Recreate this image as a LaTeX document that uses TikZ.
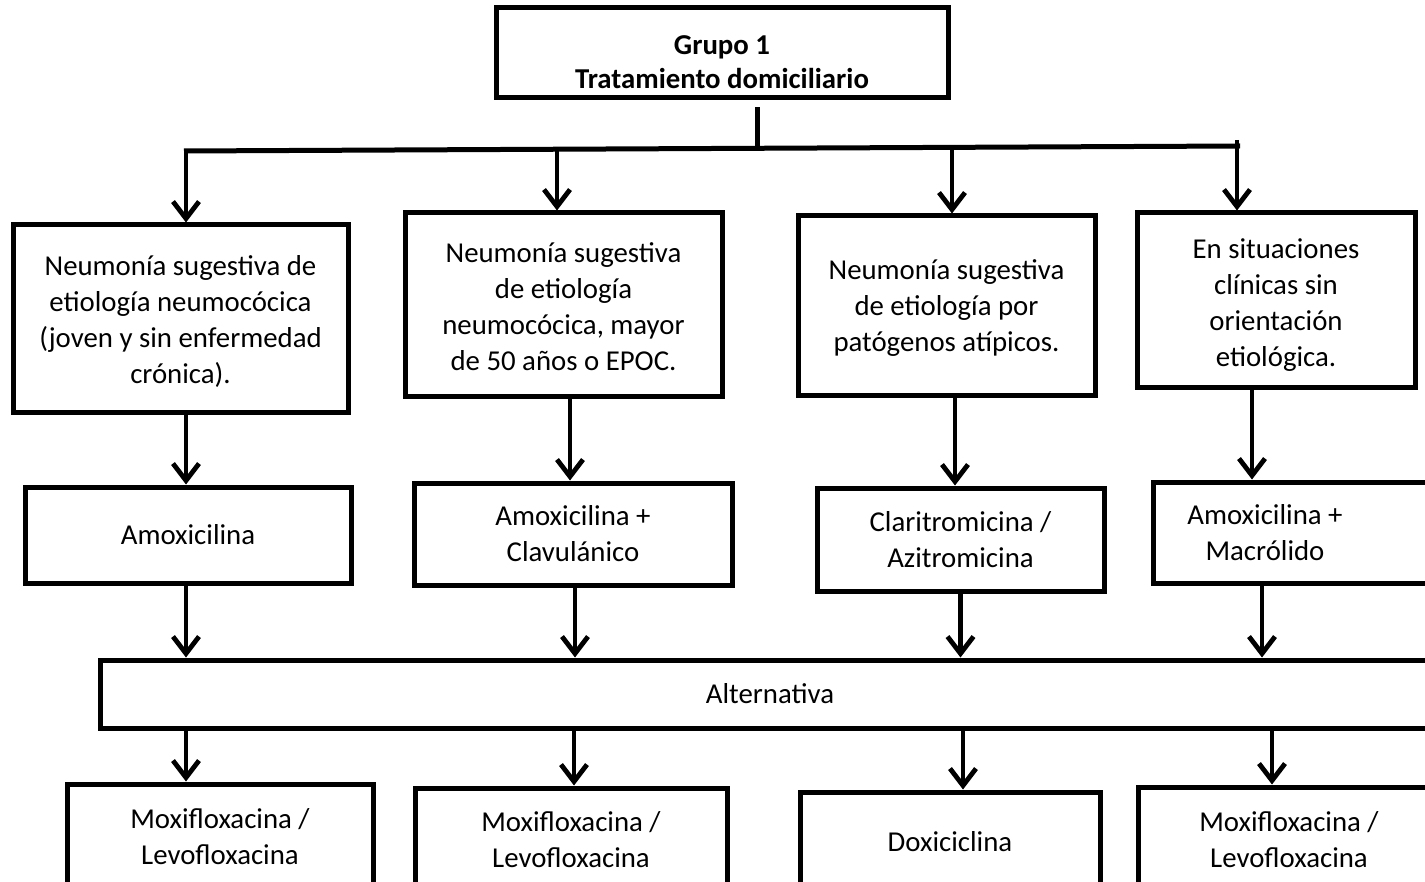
\documentclass[tikz,border=0pt]{standalone}
\usepackage{fontspec}
\setmainfont{Carlito}
\usetikzlibrary{arrows.meta,calc}
\begin{document}
\begin{tikzpicture}[x=0.5pt,y=-0.5pt,
  box/.style={draw,line width=2.5pt,align=center,inner sep=0pt,font=\fontsize{14.4}{18}\selectfont},
  arr/.style={line width=2.2pt,-{Straight Barb[length=8.5pt,width=13pt,line width=2.4pt]}},
  ln/.style={line width=2.5pt}]
\useasboundingbox (0,0) rectangle (1425,882);
\clip (0,0) rectangle (1425,882);

% top
\node[box,minimum width=226pt,minimum height=45pt,font=\bfseries\fontsize{14.4}{17}\selectfont] (T) at (722,53) {\rule{0pt}{19pt}Grupo 1\\Tratamiento domiciliario};

% row 1
\node[box,minimum width=167.5pt,minimum height=93.5pt] (A) at (180.5,318.5) {\rule{0pt}{13pt}Neumonía sugestiva de\\etiología neumocócica\\(joven y sin enfermedad\\crónica).};
\node[box,minimum width=158.5pt,minimum height=91.5pt] (B) at (563.5,304.5) {\rule{0pt}{12pt}Neumonía sugestiva\\de etiología\\neumocócica, mayor\\de 50 años o EPOC.};
\node[box,minimum width=148.5pt,minimum height=89.5pt] (C) at (946.5,305.5) {\rule{0pt}{12pt}Neumonía sugestiva\\de etiología por\\patógenos atípicos.};
\node[box,minimum width=139pt,minimum height=87.5pt] (D) at (1276,300.5) {\rule{0pt}{14pt}En situaciones\\clínicas sin\\orientación\\etiológica.};

% row 2
\node[box,minimum width=163pt,minimum height=48pt] (A2) at (188,535) {Amoxicilina};
\node[box,minimum width=159pt,minimum height=51pt] (B2) at (573,534) {Amoxicilina +\\Clavulánico};
\node[box,minimum width=143.5pt,minimum height=51.5pt] (C2) at (960.5,539.5) {Claritromicina /\\Azitromicina};
\node[box,minimum width=143.5pt,minimum height=50.5pt] (D2) at (1296.5,532.5) {Amoxicilina +\hspace*{31.5pt}\\Macrólido\hspace*{31.5pt}};

% alternativa
\node[box,minimum width=670pt,minimum height=34pt] (Alt) at (770,694) {Alternativa};

% row 3
\node[box,minimum width=153pt,minimum height=53pt] (A3) at (220,837) {Moxifloxacina /\\Levofloxacina};
\node[box,minimum width=156pt,minimum height=52pt] (B3) at (571,840) {Moxifloxacina /\\Levofloxacina};
\node[box,minimum width=150pt,minimum height=50pt] (C3) at (950,842) {Doxiciclina};
\node[box,minimum width=151pt,minimum height=53pt] (D3) at (1289,840) {Moxifloxacina /\\Levofloxacina};

% stub and bar
\coordinate (s1) at ($(T.south)+(35,7)$);
\draw[ln] (s1) -- ++(0,41);
\coordinate (bl) at (184,151);
\coordinate (br) at (1240,146);
\draw[ln] (bl) -- (br);

% branch arrows
\coordinate (b1) at (186,151);
\coordinate (b2) at (557,149);
\coordinate (b3) at (952,147.5);
\coordinate (b4) at (1237,140);
\draw[arr] (b1) -- (b1 |- A.north);
\draw[arr] (b2) -- (b2 |- B.north);
\draw[arr] (b3) -- (b3 |- C.north);
\draw[arr] (b4) -- (b4 |- D.north);

% row1 -> row2
\coordinate (r1) at ($(A.south)+(5.5,0)$);
\coordinate (r2) at ($(B.south)+(6.5,0)$);
\coordinate (r3) at ($(C.south)+(8.5,0)$);
\coordinate (r4) at ($(D.south)+(-24,0)$);
\draw[arr] (r1) -- (r1 |- A2.north);
\draw[arr] (r2) -- (r2 |- B2.north);
\draw[arr] (r3) -- (r3 |- C2.north);
\draw[arr] (r4) -- (r4 |- D2.north);

% row2 -> alternativa
\coordinate (q1) at ($(A2.south)+(-2,0)$);
\coordinate (q2) at ($(B2.south)+(2,0)$);
\coordinate (q3) at ($(C2.south)+(0,0)$);
\coordinate (q4) at ($(D2.south)+(-34.5,0)$);
\draw[arr] (q1) -- (q1 |- Alt.north);
\draw[arr] (q2) -- (q2 |- Alt.north);
\draw[arr] (q3) -- (q3 |- Alt.north);
\draw[arr] (q4) -- (q4 |- Alt.north);

% alternativa -> row3
\coordinate (p1) at ($(Alt.south)+(-584,0)$);
\coordinate (p2) at ($(Alt.south)+(-196,0)$);
\coordinate (p3) at ($(Alt.south)+(193,0)$);
\coordinate (p4) at ($(Alt.south)+(502,0)$);
\draw[arr] (p1) -- (p1 |- A3.north);
\draw[arr] (p2) -- (p2 |- B3.north);
\draw[arr] (p3) -- (p3 |- C3.north);
\draw[arr] (p4) -- (p4 |- D3.north);
\end{tikzpicture}
\end{document}
